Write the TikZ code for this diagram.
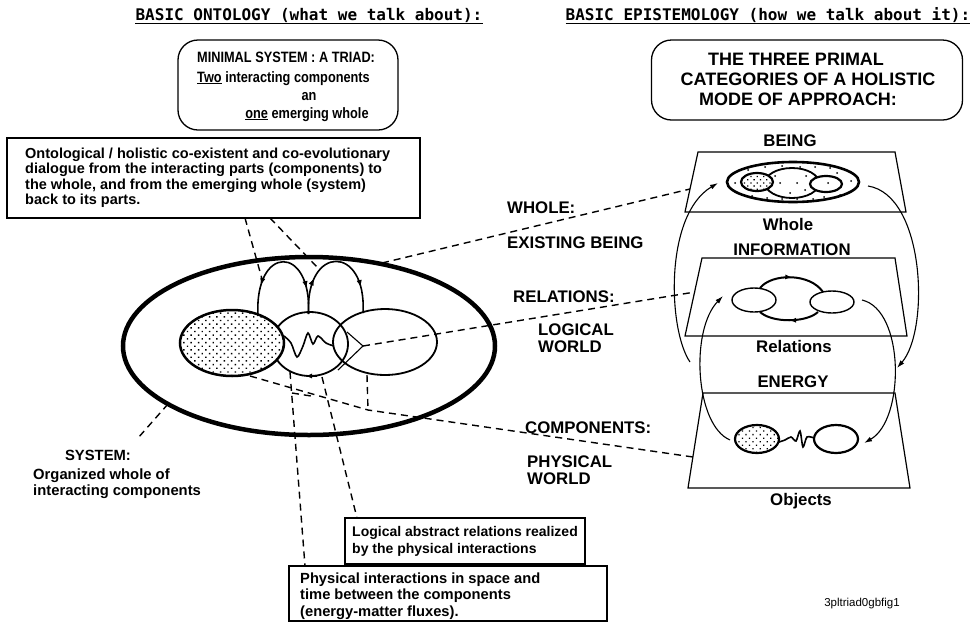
\documentclass[tikz,border=0pt]{standalone}
\usepackage{fontspec}
\usepackage{graphicx}
\setmainfont{Liberation Sans}
\newfontfamily\headfont{DejaVu Sans Mono}
\usetikzlibrary{arrows.meta,decorations.markings,patterns.meta,calc}
\newcommand\tallb[1]{\scalebox{0.85}[1]{#1}}
\begin{document}
\begin{tikzpicture}[x=1pt,y=-1pt,
  hdr/.style={font=\headfont\bfseries\fontsize{16}{18}\selectfont, inner sep=0pt, anchor=base},
  ul/.style={line width=1.6pt},
  rbox/.style={draw, line width=1.3pt, rounded corners=20pt},
  sbox/.style={draw, line width=1.3pt},
  bonet/.style={font=\bfseries\fontsize{15}{17}\selectfont, inner sep=0pt},
  btwot/.style={font=\bfseries\fontsize{18}{20}\selectfont, inner sep=0pt, anchor=base},
  bthreet/.style={font=\bfseries\fontsize{14.5}{16}\selectfont, inner sep=0pt, anchor=base west},
  smallt/.style={font=\bfseries\fontsize{14}{16}\selectfont, inner sep=0pt, anchor=base west},
  physt/.style={font=\bfseries\fontsize{14.7}{16}\selectfont, inner sep=0pt, anchor=base west},
  midlbl/.style={font=\bfseries\fontsize{16.8}{18}\selectfont, inner sep=0pt, anchor=base west},
  rlbl/.style={font=\bfseries\fontsize{16.8}{18}\selectfont, inner sep=0pt, anchor=base},
  syslbl/.style={font=\bfseries\fontsize{14.8}{17}\selectfont, inner sep=0pt},
  dsh/.style={dash pattern=on 7pt off 5pt, line width=1.4pt},
  loopline/.style={line width=1.6pt},
  fineline/.style={line width=1.1pt},
  plate/.style={line width=1.2pt},
  tipf/.style={-{Latex[length=8pt,width=5pt]}},
  markfwd/.style={postaction={decorate}, decoration={markings,
      mark=at position #1 with {\arrow{Latex[length=7pt,width=5pt]}}}},
  markrev/.style={postaction={decorate}, decoration={markings,
      mark=at position #1 with {\arrowreversed{Latex[length=7pt,width=5pt]}}}},
  dotfill/.style={pattern={Dots[distance=5.2pt,radius=1pt,angle=45]}},
]
\useasboundingbox (0,0) rectangle (978,622);
\fill[white] (0,0) rectangle (978,622);

% ---------- headers ----------
\node[hdr] (h1) at (309,20) {BASIC ONTOLOGY (what we talk about):};
\draw[ul] ($(h1.base west)+(0,3.5)$) -- ($(h1.base east)+(0,3.5)$);
\node[hdr] (h2) at (768,20) {BASIC EPISTEMOLOGY (how we talk about it):};
\draw[ul] ($(h2.base west)+(0,3.5)$) -- ($(h2.base east)+(0,3.5)$);

% ---------- box 1 ----------
\node[rbox, minimum width=220pt, minimum height=90pt] (b1) at (288,85) {};
\node[bonet, anchor=base west] (b1a) at (197,62) {\tallb{MINIMAL SYSTEM : A TRIAD:}};
\node[bonet, anchor=base west] (b1b) at (197,82) {\tallb{\underline{Two} interacting components}};
\node[bonet, anchor=base] (b1c) at (309,100) {\tallb{an}};
\node[bonet, anchor=base] (b1d) at (307,118) {\tallb{\underline{one} emerging whole}};

% ---------- box 2 ----------
\node[rbox, minimum width=311pt, minimum height=80pt] (b2) at (807,80) {};
\node[btwot] (b2a) at (796,65) {THE THREE PRIMAL};
\node[btwot] (b2b) at (808,85) {CATEGORIES OF A HOLISTIC};
\node[btwot] (b2c) at (798,105) {MODE OF APPROACH:};

% ---------- box 3 ----------
\node[sbox, minimum width=413pt, minimum height=80pt] (b3) at (213.5,178) {};
\node[bthreet] (b3a) at (25,158) {Ontological / holistic co-existent and co-evolutionary};
\node[bthreet] (b3b) at (25,173.5) {dialogue from the interacting parts (components) to};
\node[bthreet] (b3c) at (25,189) {the whole, and from the emerging whole (system)};
\node[bthreet] (b3d) at (25,204.5) {back to its parts.};

% ---------- big system ellipse ----------
\draw[line width=4.5pt] (309,346) ellipse [x radius=186, y radius=89];
% middle and right components
\draw[line width=1.8pt] (310,344) ellipse [x radius=38, y radius=32];
\draw[line width=1.8pt] (385,342) ellipse [x radius=52, y radius=33];
% dotted component
\fill[white] (232,343) ellipse [x radius=52, y radius=33];
\draw[line width=2.5pt, dotfill] (232,343) ellipse [x radius=52, y radius=33];
% interaction wiggle
\draw[line width=1.6pt] plot[smooth] coordinates {(284,336) (291,343) (297,357) (303,346) (308,333) (313,344) (318,336) (326,343) (334,346)};
% arrow on middle ellipse bottom
\coordinate (mbr) at (317,376);
\coordinate (mbl) at (305,376);
\draw[line width=1.5pt, -{Latex[length=7pt,width=5pt]}] (mbr) -- (mbl);

% loops
\coordinate (lf) at (258,316);
\coordinate (jn) at (308.5,314);
\coordinate (rf) at (363,313);
\draw[loopline, markrev=0.24, markfwd=0.8] (lf) .. controls (254,244) and (312,244) .. (jn);
\draw[loopline, markfwd=0.28, markfwd=0.8] (jn) .. controls (305,244) and (367,244) .. (rf);

% relation junction lines
\coordinate (j4) at (363,346);
\coordinate (j4a) at (347,332);
\coordinate (j4b) at (338,370);
\draw[fineline] (j4a) -- (j4) -- (j4b);

% ---------- right side: BEING plate ----------
\node[rlbl] (being) at (790,146) {BEING};
\draw[plate] (698,152) -- (895,152) -- (906,212) -- (685,212) -- cycle;
\draw[line width=1.8pt] (792,183) ellipse [x radius=27, y radius=15];
\foreach \p in {(765,167),(782,166),(800,167),(815,167),(780,183),(797,183),(790,193),
  (767,198),(782,199),(797,199),(813,199),(837,173),(840,195),(851,181),(735,183),
  (830,168),(775,176),(805,190),(748,170),(752,196),(806,176),(824,197)}
  \fill \p circle (1pt);
\fill[white] (757,182) ellipse [x radius=16, y radius=9];
\draw[line width=2.2pt, pattern={Dots[distance=4.5pt,radius=0.9pt,angle=45]}] (757,182) ellipse [x radius=16, y radius=9];
\fill[white] (826,184) ellipse [x radius=16, y radius=8];
\draw[line width=2.2pt] (826,184) ellipse [x radius=16, y radius=8];
\fill (828,183) circle (1pt);
\draw[line width=2.6pt] (793,182) ellipse [x radius=66, y radius=20];
\node[rlbl] (whole) at (788,230) {Whole};

% ---------- INFORMATION plate ----------
\node[rlbl] (info) at (792,255) {INFORMATION};
\draw[plate] (702,258) -- (895,258) -- (907,336) -- (685,336) -- cycle;
\draw[line width=1.4pt] (754,300) ellipse [x radius=22, y radius=12];
\draw[line width=1.4pt] (832,302) ellipse [x radius=22, y radius=11];
\draw[line width=2pt, markfwd=0.5] (760,288) .. controls (772,273) and (810,273) .. (823,292);
\draw[line width=2pt, markfwd=0.5] (818,312) .. controls (806,323) and (772,323) .. (760,312);
\node[rlbl] (rel) at (794,352) {Relations};

% ---------- ENERGY plate ----------
\node[rlbl] (energy) at (793,387) {ENERGY};
\draw[plate] (703,393) -- (895,393) -- (910,488) -- (688,488) -- cycle;
\fill[white] (757,439) ellipse [x radius=22, y radius=14];
\draw[line width=2.2pt, pattern={Dots[distance=5pt,radius=0.9pt,angle=45]}] (757,439) ellipse [x radius=22, y radius=14];
\draw[line width=2.2pt] (836,439) ellipse [x radius=22, y radius=14];
\draw[line width=1.6pt] plot[smooth] coordinates {(779,442) (785,440) (791,437) (796,441) (800,431) (803,447) (807,437) (814,438)};
\node[rlbl] (objects) at (801,505) {Objects};

% ---------- circulation arrows (right) ----------
\draw[fineline, tipf] (690,362) .. controls (668,330) and (664,215) .. (718,183);
\draw[fineline, tipf] (730,440) .. controls (695,425) and (690,330) .. (723,296);
\draw[fineline, tipf] (868,186) .. controls (925,195) and (930,330) .. (897,368);
\draw[fineline, tipf] (862,300) .. controls (905,310) and (905,420) .. (864,443);

% ---------- middle labels ----------
\node[midlbl] (wl) at (507,213) {WHOLE:};
\node[midlbl] (eb) at (507,248) {EXISTING BEING};
\node[midlbl] (rl) at (513,302) {RELATIONS:};
\node[midlbl] (lg) at (538,335) {LOGICAL};
\node[midlbl] (lw) at (538,352) {WORLD};
\node[midlbl] (cp) at (525,433) {COMPONENTS:};
\node[midlbl] (ph) at (527,467) {PHYSICAL};
\node[midlbl] (pw) at (527,484) {WORLD};

% ---------- system label ----------
\node[syslbl, anchor=base] (sys) at (98,460) {SYSTEM:};
\node[syslbl, anchor=base west] (sys2) at (33,479) {Organized whole of};
\node[syslbl, anchor=base west] (sys3) at (33,495) {interacting components};

% ---------- bottom boxes ----------
\node[sbox, minimum width=240pt, minimum height=46pt] (lb) at (465,541) {};
\node[smallt] (lba) at (352,536) {Logical abstract relations realized};
\node[smallt] (lbb) at (352,553) {by the physical interactions};
\node[sbox, minimum width=318pt, minimum height=55pt] (pb) at (448,593.5) {};
\node[physt] (pba) at (300,583) {Physical interactions in space and};
\node[physt] (pbb) at (300,599.5) {time between the components};
\node[physt] (pbc) at (300,616) {(energy-matter fluxes).};

\node[font=\fontsize{11.5}{13}\selectfont, inner sep=0pt] (code) at (862,604) {3pltriad0gbfig1};

% ---------- dashed connectors ----------
\coordinate (d1a) at (245,218); \coordinate (d1b) at (262,279);
\coordinate (d2a) at (270,218); \coordinate (d2b) at (318,268);
\draw[dsh] (d1a) -- (d1b);
\draw[dsh] (d2a) -- (d2b);
\coordinate (d3a) at (382,263); \coordinate (d3b) at (690,189);
\draw[dsh] (d3a) -- (d3b);
\coordinate (d4b) at (695,292);
\draw[dsh] (j4) -- (d4b);
\coordinate (d5a) at (250,376); \coordinate (j5) at (368,410);
\coordinate (d5b) at (693,457); \coordinate (d9a) at (367,375);
\draw[dsh] (d5a) -- (j5) -- (d5b);
\draw[dsh] (d9a) -- (j5);
\coordinate (d6a) at (168,404); \coordinate (d6b) at (138,438);
\draw[dsh] (d6a) -- (d6b);
\coordinate (d7a) at (290,372); \coordinate (d7b) at (305,566);
\coordinate (d7c) at (292,393); \coordinate (d7d) at (311,396);
\draw[dsh] (d7a) -- (d7b);
\draw[dsh] (d7c) -- (d7d);
\coordinate (d8a) at (322,377); \coordinate (d8b) at (357,518);
\draw[dsh] (d8a) -- (d8b);
\end{tikzpicture}
\end{document}
